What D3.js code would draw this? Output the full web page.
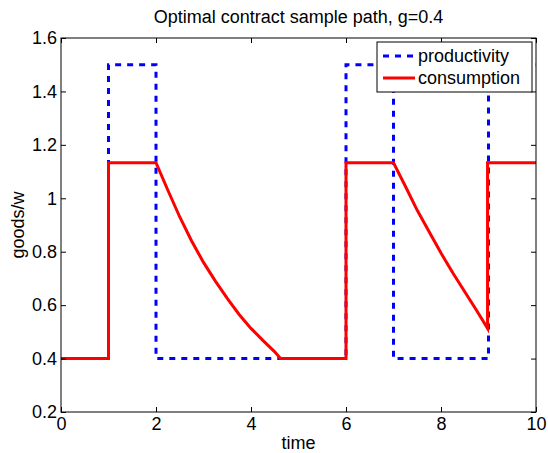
<!DOCTYPE html>
<html>
<head>
<meta charset="utf-8">
<script src="https://cdn.jsdelivr.net/npm/d3@7"></script>
<style>
  body { margin: 0; background: #fff; }
  svg { font-family: "Liberation Sans", Arial, Helvetica, sans-serif; }
</style>
</head>
<body>
<svg id="chart" width="548" height="453"></svg>
<script>
// Data
const prodTime = [0, 1, 1, 2, 2, 6, 6, 7, 7, 9, 9, 10];
const prodValue = [0.4, 0.4, 1.5, 1.5, 0.4, 0.4, 1.5, 1.5, 0.4, 0.4, 1.5, 1.5];

const consTime = [0, 1, 1, 2, 2.25, 2.5, 2.75, 3, 3.25, 3.5, 3.75, 4, 4.25, 4.5, 4.62,
  6, 6, 7, 7.25, 7.5, 7.75, 8, 8.25, 8.5, 8.75, 8.98, 8.98, 10];
const consValue = [0.4, 0.4, 1.133, 1.133, 1.03, 0.93, 0.84, 0.76, 0.69, 0.625, 0.565, 0.513, 0.468, 0.425, 0.4,
  0.4, 1.133, 1.133, 1.045, 0.955, 0.875, 0.795, 0.72, 0.65, 0.58, 0.513, 1.133, 1.133];

const xTicks = [0, 2, 4, 6, 8, 10];
const yTicks = [0.2, 0.4, 0.6, 0.8, 1, 1.2, 1.4, 1.6];
const legendLabels = ['productivity', 'consumption'];

const margin = { left: 61, right: 12, top: 38, bottom: 41 };
const width = 548, height = 453;
const fontSize = '18px';
const dash = '6,6';

const svg = d3.select('#chart');

const x = d3.scaleLinear().domain([0, 10]).range([margin.left, width - margin.right]);
const y = d3.scaleLinear().domain([0.2, 1.6]).range([height - margin.bottom, margin.top]);

// Title
svg.append('text')
  .attr('x', (x.range()[0] + x.range()[1]) / 2)
  .attr('y', 23)
  .attr('text-anchor', 'middle')
  .style('font-size', fontSize)
  .text('Optimal contract sample path, g=0.4');

// Lines
const line = d3.line().x(d => x(d[0])).y(d => y(d[1]));

svg.append('path')
  .datum(d3.zip(prodTime, prodValue))
  .attr('d', line)
  .attr('fill', 'none')
  .attr('stroke', '#0000ff')
  .attr('stroke-width', 3)
  .attr('stroke-dasharray', dash);

svg.append('path')
  .datum(d3.zip(consTime, consValue))
  .attr('d', line)
  .attr('fill', 'none')
  .attr('stroke', '#ff0000')
  .attr('stroke-width', 3)
  .attr('stroke-linejoin', 'miter');

// Axes (MATLAB-style box with inward ticks)
const tickLen = 5;
const axisStyle = g => {
  g.select('.domain').remove();
  g.selectAll('.tick line').attr('stroke', '#000');
  g.selectAll('.tick text').style('font-size', fontSize).attr('fill', '#000');
};

svg.append('g')
  .attr('transform', `translate(0,${y.range()[0]})`)
  .call(d3.axisBottom(x).tickValues(xTicks).tickSize(-tickLen).tickPadding(5).tickFormat(d3.format('d')))
  .call(axisStyle);

svg.append('g')
  .attr('transform', `translate(0,${y.range()[1]})`)
  .call(d3.axisTop(x).tickValues(xTicks).tickSize(-tickLen).tickFormat(''))
  .call(axisStyle);

svg.append('g')
  .attr('transform', `translate(${x.range()[0]},0)`)
  .call(d3.axisLeft(y).tickValues(yTicks).tickSize(-tickLen).tickPadding(4).tickFormat(d3.format('~g')))
  .call(axisStyle);

svg.append('g')
  .attr('transform', `translate(${x.range()[1]},0)`)
  .call(d3.axisRight(y).tickValues(yTicks).tickSize(-tickLen).tickFormat(''))
  .call(axisStyle);

svg.append('rect')
  .attr('x', x.range()[0])
  .attr('y', y.range()[1])
  .attr('width', x.range()[1] - x.range()[0])
  .attr('height', y.range()[0] - y.range()[1])
  .attr('fill', 'none')
  .attr('stroke', '#000')
  .attr('stroke-width', 1);

// Axis labels
svg.append('text')
  .attr('x', (x.range()[0] + x.range()[1]) / 2)
  .attr('y', 449)
  .attr('text-anchor', 'middle')
  .style('font-size', fontSize)
  .text('time');

svg.append('text')
  .attr('transform', `translate(24,${(y.range()[0] + y.range()[1]) / 2}) rotate(-90)`)
  .attr('text-anchor', 'middle')
  .style('font-size', fontSize)
  .text('goods/w');

// Legend
const legend = svg.append('g').attr('transform', 'translate(377,42)');
legend.append('rect')
  .attr('width', 155)
  .attr('height', 50)
  .attr('fill', '#fff')
  .attr('stroke', '#000');

const legendStyles = [
  { color: '#0000ff', dash: dash },
  { color: '#ff0000', dash: null }
];

legendLabels.forEach((label, i) => {
  const yy = 14 + i * 22;
  legend.append('line')
    .attr('x1', 6).attr('x2', 38)
    .attr('y1', yy).attr('y2', yy)
    .attr('stroke', legendStyles[i].color)
    .attr('stroke-width', 3)
    .attr('stroke-dasharray', legendStyles[i].dash);
  legend.append('text')
    .attr('x', 41)
    .attr('y', yy)
    .attr('dy', '0.35em')
    .style('font-size', fontSize)
    .text(label);
});
</script>
</body>
</html>
